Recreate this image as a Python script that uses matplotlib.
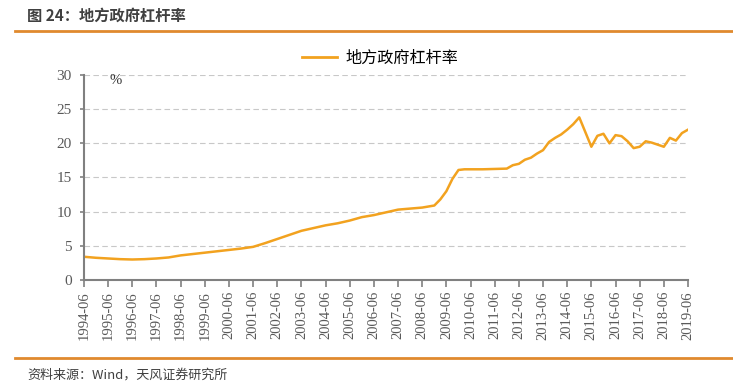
from matplotlib import pyplot as plt
from matplotlib.lines import Line2D

plt.rcParams['font.family'] = ['Noto Sans CJK SC', 'DejaVu Sans']

# local government leverage ratio (%)
dates = ["1994-06", "1994-12", "1995-06", "1995-12", "1996-06", "1996-12",
         "1997-06", "1997-12", "1998-06", "1998-12", "1999-06", "1999-12",
         "2000-06", "2000-12", "2001-06", "2001-12", "2002-06", "2002-12",
         "2003-06", "2003-12", "2004-06", "2004-12", "2005-06", "2005-12",
         "2006-06", "2006-12", "2007-06", "2007-12", "2008-06", "2008-12",
         "2009-03", "2009-06", "2009-09", "2009-12", "2010-03", "2010-06",
         "2010-12", "2011-06", "2011-12", "2012-03", "2012-06", "2012-09",
         "2012-12", "2013-03", "2013-06", "2013-09", "2013-12", "2014-03",
         "2014-06", "2014-09", "2014-12", "2015-06", "2015-09", "2015-12",
         "2016-03", "2016-06", "2016-09", "2016-12", "2017-03", "2017-06",
         "2017-09", "2017-12", "2018-03", "2018-06", "2018-09", "2018-12",
         "2019-03", "2019-06"]
values = [3.4, 3.25, 3.15, 3.05, 3.0, 3.05,
          3.15, 3.3, 3.6, 3.8, 4.0, 4.2,
          4.4, 4.6, 4.85, 5.4, 6.0, 6.6,
          7.2, 7.6, 8.0, 8.3, 8.7, 9.2,
          9.5, 9.9, 10.3, 10.45, 10.6, 10.9,
          11.8, 13.0, 14.8, 16.1, 16.2, 16.2,
          16.2, 16.25, 16.3, 16.8, 17.0, 17.6,
          17.9, 18.5, 19.0, 20.2, 20.8, 21.3,
          22.0, 22.8, 23.8, 19.5, 21.1, 21.4,
          20.0, 21.2, 21.05, 20.3, 19.3, 19.5,
          20.3, 20.1, 19.8, 19.5, 20.8, 20.4,
          21.5, 22.0]
tick_labels = [str(y) + "-06" for y in range(1994, 2020)]
series_name = "地方政府杠杆率"

orange = "#F2A21F"
gray = "#595959"


def to_pos(d):
    y, m = d.split("-")
    return int(y) - 1994 + (int(m) - 6) / 12


xs = [to_pos(d) for d in dates]

fig = plt.figure(figsize=(7.33, 3.92), dpi=100)
ax = fig.add_axes([0.1146, 0.2857, 0.8240, 0.5230])

ax.plot(xs, values, color=orange, linewidth=1.8)

ax.set_xlim(0, 25)
ax.set_ylim(0, 30)
ax.set_yticks(range(0, 31, 5))
ax.set_xticks(range(len(tick_labels)))
ax.set_xticklabels(tick_labels, rotation=90, family='Liberation Serif',
                   fontsize=10.5, color=gray)
for lab in ax.get_yticklabels():
    lab.set_family('Liberation Serif')
    lab.set_fontsize(11)
    lab.set_color(gray)

ax.grid(axis='y', linestyle=(0, (5, 3)), color='#C8C8C8', linewidth=0.8)
ax.set_axisbelow(True)
for s in ['top', 'right']:
    ax.spines[s].set_visible(False)
for s in ['left', 'bottom']:
    ax.spines[s].set_color('#808080')
    ax.spines[s].set_linewidth(1.5)
ax.tick_params(axis='x', direction='out', length=5, width=1.2, color='#808080', pad=3)
ax.tick_params(axis='y', direction='out', length=3, width=1.2, color='#808080', pad=6)

ax.text(0.043, 1.005, "%", transform=ax.transAxes, fontsize=10.5,
        family='Liberation Serif', color='#333333', va='top')

# legend
handle = Line2D([], [], color=orange, linewidth=2)
fig.legend(handles=[handle], labels=[series_name], loc='center',
           bbox_to_anchor=(0.518, 0.852), frameon=False, fontsize=11.6,
           handlelength=2.2, handletextpad=0.5)

# header / footer
fig.text(27 / 733, 1 - 16 / 392, "图 24：地方政府杠杆率", fontsize=11,
         fontweight='bold', color='#404040', va='center')
fig.add_artist(Line2D([15 / 733, 1], [1 - 31 / 392] * 2, color='#E08A2E', linewidth=2))
fig.add_artist(Line2D([15 / 733, 1], [1 - 358 / 392] * 2, color='#E08A2E', linewidth=2))
fig.text(27 / 733, 1 - 375 / 392, "资料来源：Wind，天风证券研究所", fontsize=9.4,
         color='#404040', va='center')

plt.savefig("out.png", dpi=100)
